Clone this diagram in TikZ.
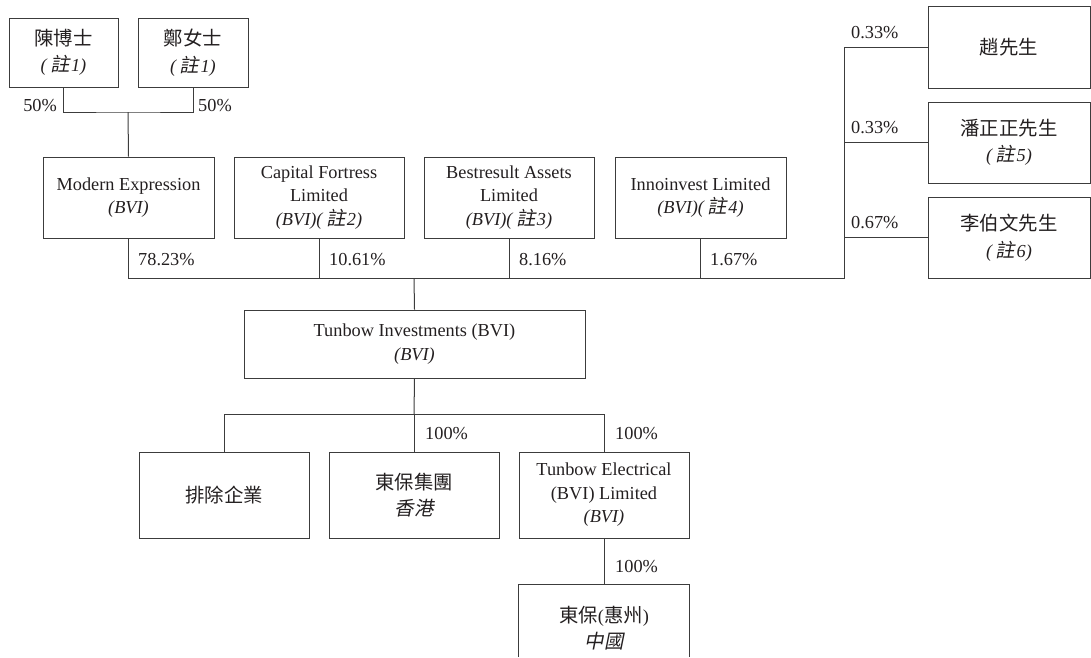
\documentclass[tikz,border=0pt]{standalone}
\usepackage{fontspec}
\setmainfont{Liberation Serif}
\newfontfamily\zhfont[Scale=1.06]{Noto Sans CJK TC}
\newfontfamily\zhslfont[Scale=1.06,FakeSlant=0.2]{Noto Sans CJK TC}
\newcommand\zh[1]{{\zhfont #1}}
\newcommand\zhs[1]{{\zhslfont #1}}
\newcommand\note[1]{\textit{(}\kern2.5pt\zhs{註}\kern1.5pt\textit{#1)}}
\definecolor{ln}{RGB}{60,60,60}
\definecolor{tx}{RGB}{35,31,32}
\begin{document}
\begin{tikzpicture}[x=1pt,y=-1pt,
  every node/.style={text=tx,font=\fontsize{18.3}{23.5}\selectfont},
  box/.style={draw=ln,line width=1pt,inner sep=0pt,align=center,minimum height=81pt},
  wbox/.style={box,minimum width=170pt},
  pct/.style={inner sep=0pt,anchor=west},
  conn/.style={draw=ln,line width=1pt}]
\useasboundingbox (0,0) rectangle (1091,657);
\coordinate (bot) at (0,657);
% top owners
\node[box,minimum width=109pt,minimum height=69pt] (chen) at (63.5,52.5) {\zh{陳博士}\\[3pt]\note{1}};
\node[box,minimum width=110pt,minimum height=69pt] (zheng) at (193,52.5) {\zh{鄭女士}\\[3pt]\note{1}};
\coordinate (j1) at (128,112);
\draw[conn] (chen.south) |- (j1) -| (zheng.south);
\node[pct,anchor=east] (p50a) at (57,106) {50\%};
\node[pct] (p50b) at (198,106) {50\%};
% shareholders row
\node[box,minimum width=171pt] (modern) at (128.5,197.5) {Modern Expression\\\textit{(BVI)}};
\node[wbox] (capital) at (319,197.5) {Capital Fortress\\Limited\\\textit{(BVI)}\note{2}};
\node[wbox] (best) at (509,197.5) {Bestresult Assets\\Limited\\\textit{(BVI)}\note{3}};
\node[box,minimum width=171pt] (inno) at (700.5,197.5) {Innoinvest Limited\\\textit{(BVI)}\note{4}};
\draw[conn] (j1) -- (modern.north);
% right individuals
\node[box,minimum width=162pt,minimum height=82pt] (zhao) at (1009,47) {\zh{趙先生}};
\node[box,minimum width=162pt] (pan) at (1009,142.5) {\zh{潘正正先生}\\[3pt]\note{5}};
\node[box,minimum width=162pt] (li) at (1009,237.5) {\zh{李伯文先生}\\[3pt]\note{6}};
% bus
\coordinate (j2) at (414,278);
\coordinate (rbus) at (844,278);
\coordinate (rtop) at (844,47);
\draw[conn] (modern.south) |- (rbus) -- (rtop) -- (zhao.west);
\draw[conn] (capital.south) -- (capital.south |- j2);
\draw[conn] (best.south) -- (best.south |- j2);
\draw[conn] (inno.south) -- (inno.south |- j2);
\draw[conn] (rbus |- pan.west) -- (pan.west);
\draw[conn] (rbus |- li.west) -- (li.west);
\node[pct] (p1) at (138,260) {78.23\%};
\node[pct] (p2) at (329,260) {10.61\%};
\node[pct] (p3) at (519,260) {8.16\%};
\node[pct] (p4) at (710,260) {1.67\%};
\node[pct] (p5) at (851,33) {0.33\%};
\node[pct] (p6) at (851,128) {0.33\%};
\node[pct] (p7) at (851,223) {0.67\%};
% Tunbow Investments
\node[box,minimum width=341pt,minimum height=68pt] (tinv) at (414.5,344) {Tunbow Investments (BVI)\\\textit{(BVI)}};
\draw[conn] (j2) -- (tinv.north);
% subsidiaries
\node[wbox,minimum height=86pt] (excl) at (224,495) {\zh{排除企業}};
\node[wbox,minimum height=86pt] (hk) at (414,495) {\zh{東保集團}\\[3pt]\zhs{香港}};
\node[wbox,minimum height=86pt] (elec) at (604,495) {Tunbow Electrical\\(BVI) Limited\\\textit{(BVI)}};
\coordinate (j3) at (414,414);
\draw[conn] (tinv.south) -- (j3);
\draw[conn] (excl.north) -- (excl.north |- j3) -- (elec.north |- j3) -- (elec.north);
\draw[conn] (j3) -- (hk.north);
\node[pct] (p8) at (425,434) {100\%};
\node[pct] (p9) at (615,434) {100\%};
% Huizhou
\node[inner sep=0pt,align=center,minimum width=170pt,minimum height=86pt] (hz) at (604,628) {\zh{東保}(\zh{惠州})\\[3pt]\zhs{中國}};
\draw[conn] (hz.north west |- bot) -- (hz.north west) -- (hz.north east) -- (hz.north east |- bot);
\draw[conn] (elec.south) -- (hz.north);
\node[pct] (p10) at (615,567) {100\%};
\end{tikzpicture}
\end{document}
